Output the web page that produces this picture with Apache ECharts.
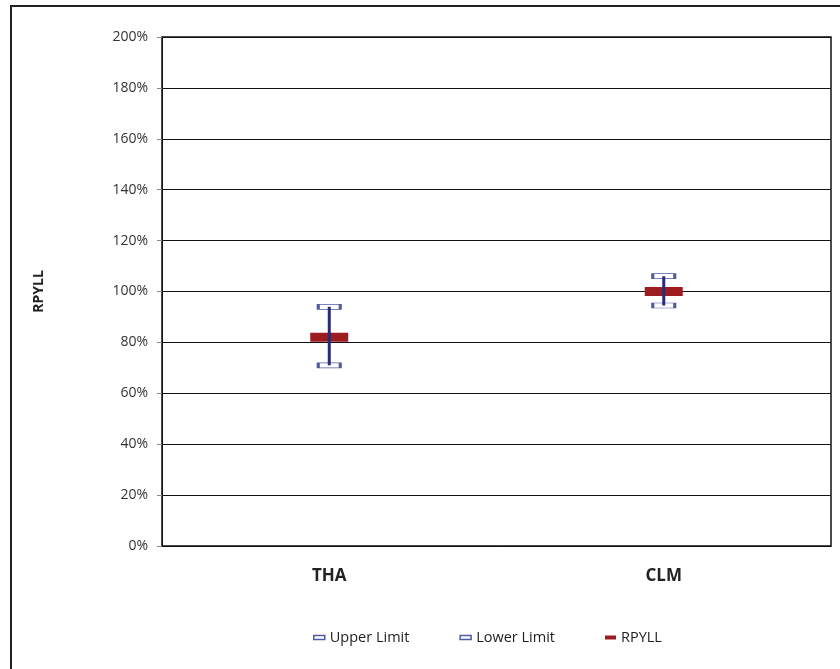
<!DOCTYPE html>
<html><head><meta charset="utf-8">
<script src="https://cdn.jsdelivr.net/npm/echarts@6/dist/echarts.min.js"></script>
<style>html,body{margin:0;padding:0;background:#fff}#c{width:840px;height:669px}</style>
</head><body><div id="c"></div>
<script>
const categories = ['THA', 'CLM'];
const upperLimit = [0.94, 1.06];
const lowerLimit = [0.71, 0.945];
const rpyll = [0.82, 1.00];
const yTicks = [0, 0.2, 0.4, 0.6, 0.8, 1.0, 1.2, 1.4, 1.6, 1.8, 2.0];

const FONT = '"Open Sans", "Noto Sans", sans-serif';
const chart = echarts.init(document.getElementById('c'));
const limitStyle = { color: '#ffffff', borderColor: '#4f5da0', borderWidth: 1.5, opacity: 1 };
chart.setOption({
  animation: false,
  textStyle: { fontFamily: FONT },
  graphic: [{ type: 'rect', shape: { x: 11, y: 6, width: 900, height: 800 }, style: { fill: 'none', stroke: '#222', lineWidth: 2 }, silent: true, z: -1 }],
  grid: { left: 162, top: 37, right: 9, bottom: 123, show: true, borderColor: '#111', borderWidth: 1.5, backgroundColor: 'transparent' },
  legend: {
    bottom: 19, left: 308, itemGap: 50, itemWidth: 11, itemHeight: 4,
    textStyle: { fontFamily: FONT, fontSize: 14.5, color: '#222' },
    data: [
      { name: 'Upper Limit', icon: 'rect', itemStyle: limitStyle },
      { name: 'Lower Limit', icon: 'rect', itemStyle: limitStyle },
      { name: 'RPYLL', icon: 'rect', itemStyle: { color: '#9c1c1f', borderWidth: 0, opacity: 1 } }
    ]
  },
  xAxis: {
    type: 'category', data: categories,
    axisLine: { show: true, lineStyle: { color: '#111', width: 1 } },
    axisTick: { show: false },
    axisLabel: { margin: 22, fontSize: 17, fontWeight: 'bold', color: '#222', fontFamily: FONT }
  },
  yAxis: {
    type: 'value', min: 0, max: 2, interval: 0.2,
    name: 'RPYLL', nameLocation: 'middle', nameGap: 116, nameRotate: 90,
    nameTextStyle: { fontSize: 14, fontWeight: 'bold', color: '#222', fontFamily: FONT },
    axisLine: { show: true, lineStyle: { color: '#111', width: 1 } },
    axisTick: { show: true, length: 5, lineStyle: { color: '#888' } },
    axisLabel: { margin: 14, fontSize: 14, color: '#333', fontFamily: FONT,
      formatter: v => Math.round(v * 100) + '%' },
    splitLine: { show: true, lineStyle: { color: '#111', width: 1.2 } }
  },
  series: [
    { name: 'Upper Limit', type: 'scatter', symbol: 'rect', symbolSize: [22, 5], data: upperLimit, itemStyle: limitStyle, z: 3 },
    { name: 'Lower Limit', type: 'scatter', symbol: 'rect', symbolSize: [22, 5], data: lowerLimit, itemStyle: limitStyle, z: 3 },
    { name: 'RPYLL', type: 'scatter', symbol: 'rect', symbolSize: [38, 9], data: rpyll, itemStyle: { color: '#9c1c1f', opacity: 1 }, z: 4 },
    { name: 'err', type: 'custom', z: 5,
      data: categories.map((c, i) => [i, lowerLimit[i], upperLimit[i]]),
      renderItem: (params, api) => {
        const lo = api.coord([api.value(0), api.value(1)]);
        const hi = api.coord([api.value(0), api.value(2)]);
        return { type: 'line', shape: { x1: lo[0], y1: lo[1], x2: hi[0], y2: hi[1] }, style: { stroke: '#2b2a74', lineWidth: 3 } };
      }
    }
  ]
});
</script></body></html>
